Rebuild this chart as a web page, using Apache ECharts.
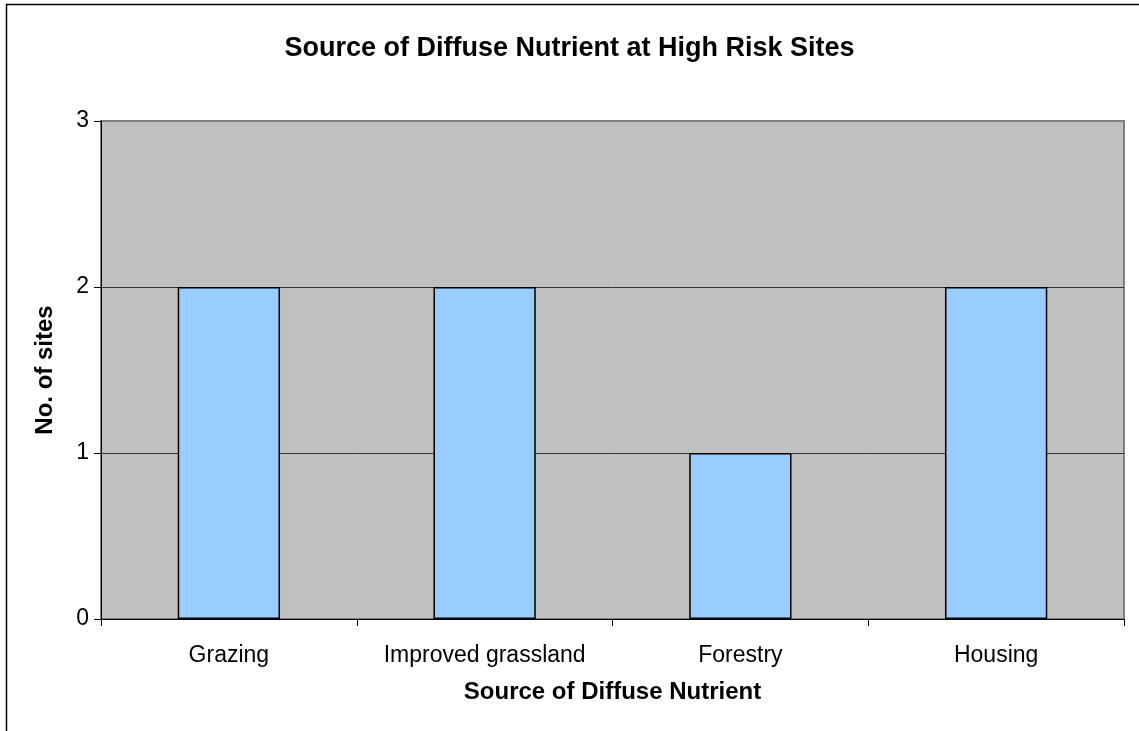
<!DOCTYPE html>
<html>
<head>
<meta charset="utf-8">
<script src="https://cdn.jsdelivr.net/npm/echarts@6/dist/echarts.min.js"></script>
<style>
html,body{margin:0;padding:0;background:#fff;}
#c{width:1139px;height:731px;}
</style>
</head>
<body>
<div id="c"></div>
<script>
const categories = ['Grazing', 'Improved grassland', 'Forestry', 'Housing'];
const sites = [2, 2, 1, 2];
const yTicks = [0, 1, 2, 3];

const chart = echarts.init(document.getElementById('c'), null, {renderer: 'canvas'});
const font = '"Liberation Sans", Arial, sans-serif';
chart.setOption({
  animation: false,
  backgroundColor: '#fff',
  textStyle: {fontFamily: font},
  title: {
    text: 'Source of Diffuse Nutrient at High Risk Sites',
    left: 'center', top: 30,
    textStyle: {fontFamily: font, fontSize: 27, fontWeight: 'bold', color: '#000'}
  },
  graphic: [{
    type: 'rect', z: -1, silent: true,
    shape: {x: 6.5, y: 4.5, width: 1300, height: 1000},
    style: {fill: 'none', stroke: '#000', lineWidth: 1.5}
  }],
  grid: {
    left: 101, top: 121, right: 15, bottom: 112,
    show: true, backgroundColor: '#C0C0C0', borderColor: '#808080', borderWidth: 2
  },
  xAxis: {
    type: 'category',
    data: categories,
    name: 'Source of Diffuse Nutrient',
    nameLocation: 'middle', nameGap: 61,
    nameTextStyle: {fontFamily: font, fontSize: 24, fontWeight: 'bold', color: '#000'},
    axisLine: {lineStyle: {color: '#000', width: 1}},
    axisTick: {show: true, interval: 0, length: 7, alignWithLabel: false, lineStyle: {color: '#000'}},
    axisLabel: {interval: 0, hideOverlap: false, fontFamily: font, fontSize: 23, color: '#000', margin: 25},
    splitLine: {show: false}
  },
  yAxis: {
    type: 'value',
    min: yTicks[0], max: yTicks[yTicks.length - 1], interval: 1,
    name: 'No. of sites',
    nameLocation: 'middle', nameGap: 44, nameRotate: 90,
    nameTextStyle: {fontFamily: font, fontSize: 24, fontWeight: 'bold', color: '#000'},
    axisLine: {show: true, lineStyle: {color: '#000', width: 1}},
    axisTick: {show: true, length: 7, lineStyle: {color: '#000'}},
    axisLabel: {fontFamily: font, fontSize: 23, color: '#000', margin: 12},
    splitLine: {show: true, lineStyle: {color: ['#000', '#333', '#333', '#808080'], width: 1}}
  },
  series: [{
    type: 'bar',
    data: sites,
    barWidth: '40%',
    itemStyle: {color: '#99CCFF', borderColor: '#000', borderWidth: 1.5}
  }]
});
</script>
</body>
</html>
